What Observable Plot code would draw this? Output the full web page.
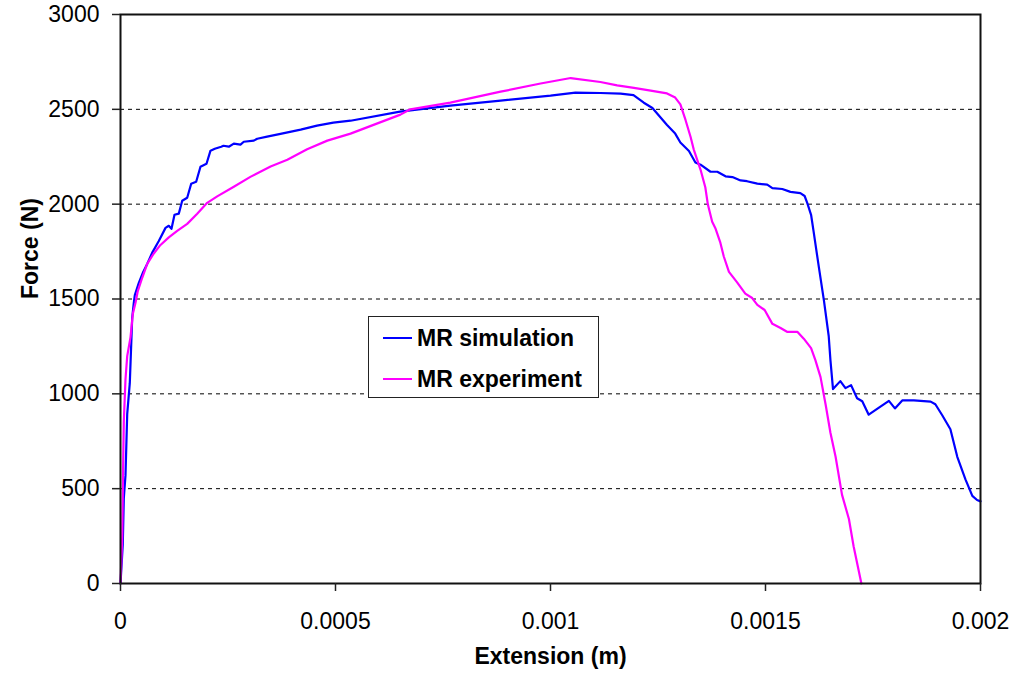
<!DOCTYPE html>
<html>
<head>
<meta charset="utf-8">
<script src="https://cdn.jsdelivr.net/npm/d3@7"></script>
<script src="https://cdn.jsdelivr.net/npm/@observablehq/plot@0.6"></script>
<style>
  html, body { margin: 0; padding: 0; background: #fff; }
  #chart { position: relative; width: 1016px; height: 679px; font-family: "Liberation Sans", Arial, sans-serif; }
  #legend {
    position: absolute; left: 368px; top: 316px; width: 229px; height: 80px;
    border: 1.5px solid #222; background: #fff; box-sizing: content-box;
  }
  #legend .item { position: absolute; left: 0; height: 30px; display: flex; align-items: center; }
  #legend .swatch { position: absolute; left: 14px; width: 29px; height: 2px; }
  #legend .label { position: absolute; left: 48px; white-space: nowrap; font-weight: bold; font-size: 23px; line-height: 30px; top: 0; }
</style>
</head>
<body>
<div id="chart"></div>
<script>
// Tensile test: force vs. extension, simulation against experiment
const simExtension = [0, 0.0000053, 0.0000077, 0.0000116, 0.0000156, 0.0000216, 0.0000272, 0.0000309, 0.0000333, 0.0000426,
  0.0000528, 0.0000621, 0.0000735, 0.0000891, 0.0001047, 0.0001123, 0.0001186, 0.0001256, 0.0001356, 0.0001435,
  0.0001551, 0.0001644, 0.000176, 0.000186, 0.0002, 0.0002093, 0.0002193, 0.0002342, 0.0002395, 0.0002519,
  0.0002635, 0.000279, 0.0002867, 0.00031, 0.000318, 0.000341, 0.000372, 0.000419, 0.000457, 0.000495,
  0.000535, 0.00065, 0.000767, 0.000884, 0.001, 0.001058, 0.001116, 0.001163, 0.001193, 0.001217,
  0.001237, 0.001271, 0.00129, 0.001302, 0.001322, 0.001337, 0.001349, 0.001372, 0.001388, 0.001407,
  0.001423, 0.001442, 0.001457, 0.001481, 0.001504, 0.001516, 0.001539, 0.001558, 0.001581, 0.001591,
  0.001597, 0.001606, 0.001612, 0.001624, 0.001636, 0.001647, 0.001651, 0.001657, 0.001674, 0.001686,
  0.001699, 0.001713, 0.001725, 0.00174, 0.001763, 0.001787, 0.001801, 0.001818, 0.001845, 0.001884,
  0.001895, 0.001911, 0.00193, 0.001946, 0.001965, 0.001981, 0.001992, 0.002];
const simForce = [0, 206, 449, 570, 893, 1056, 1400, 1479, 1521, 1585,
  1643, 1685, 1743, 1806, 1875, 1886, 1870, 1944, 1950, 2018,
  2034, 2108, 2118, 2197, 2213, 2282, 2292, 2303, 2308, 2303,
  2319, 2314, 2329, 2335, 2345, 2356, 2371, 2393, 2414, 2430,
  2440, 2488, 2520, 2546, 2572, 2588, 2586, 2583, 2575, 2535,
  2507, 2417, 2372, 2325, 2280, 2220, 2208, 2171, 2171, 2147,
  2143, 2125, 2121, 2108, 2103, 2085, 2080, 2065, 2058, 2043,
  2007, 1944, 1854, 1669, 1490, 1305, 1178, 1025, 1067, 1030,
  1046, 977, 961, 890, 926, 963, 923, 965, 965, 959,
  945, 887, 813, 668, 549, 462, 440, 433];

const expExtension = [0, 0.000004, 0.0000063, 0.0000077, 0.0000116, 0.0000156, 0.0000233, 0.0000286, 0.0000349, 0.0000402,
  0.0000505, 0.0000621, 0.0000774, 0.000093, 0.0001123, 0.0001319, 0.0001551, 0.0001784, 0.0002016, 0.0002249,
  0.0002635, 0.000302, 0.000349, 0.000388, 0.000434, 0.000481, 0.000535, 0.000651, 0.000674, 0.000767,
  0.000884, 0.000977, 0.001047, 0.001116, 0.001155, 0.001194, 0.001233, 0.001271, 0.00129, 0.001302,
  0.001314, 0.001326, 0.001333, 0.001349, 0.00136, 0.001366, 0.001376, 0.001384, 0.001395, 0.001403,
  0.001415, 0.001434, 0.001453, 0.001469, 0.001481, 0.001498, 0.001516, 0.001535, 0.00155, 0.001574,
  0.001589, 0.001606, 0.001616, 0.001628, 0.00164, 0.001651, 0.001663, 0.001678, 0.001694, 0.001705,
  0.001723];
const expForce = [0, 248, 650, 853, 1077, 1199, 1299, 1421, 1480, 1542,
  1612, 1685, 1740, 1785, 1825, 1859, 1896, 1950, 2007, 2041,
  2092, 2144, 2199, 2234, 2290, 2335, 2372, 2472, 2500, 2535,
  2593, 2636, 2665, 2644, 2626, 2613, 2599, 2584, 2562, 2526,
  2444, 2353, 2289, 2181, 2089, 1998, 1907, 1870, 1797, 1724,
  1643, 1588, 1528, 1505, 1469, 1442, 1369, 1347, 1327, 1327,
  1291, 1241, 1178, 1088, 941, 795, 668, 467, 340, 195,
  0];

const seriesNames = ["MR simulation", "MR experiment"];
const seriesColors = ["#0000ff", "#ff00ff"];
const xTicks = [0, 0.0005, 0.001, 0.0015, 0.002];
const yTicks = [0, 500, 1000, 1500, 2000, 2500, 3000];
const gridLines = [500, 1000, 1500, 2000, 2500];

const simulation = simExtension.map((x, i) => ({x, y: simForce[i]}));
const experiment = expExtension.map((x, i) => ({x, y: expForce[i]}));

const chart = Plot.plot({
  width: 1016,
  height: 679,
  marginLeft: 120,
  marginRight: 36,
  marginTop: 14,
  marginBottom: 96,
  style: {fontFamily: "'Liberation Sans', Arial, sans-serif", fontSize: "23px", color: "#000", background: "#fff"},
  x: {domain: [0, 0.002]},
  y: {domain: [0, 3000]},
  marks: [
    Plot.ruleY(gridLines, {stroke: "#000", strokeWidth: 1, strokeDasharray: "4,4"}),
    Plot.line(simulation, {x: "x", y: "y", stroke: seriesColors[0], strokeWidth: 2.2}),
    Plot.line(experiment, {x: "x", y: "y", stroke: seriesColors[1], strokeWidth: 2.2}),
    Plot.frame({stroke: "#111", strokeWidth: 2}),
    Plot.axisY({ticks: yTicks, tickSize: 8, tickPadding: 13, tickFormat: d => String(d), label: null, stroke: "#222", strokeWidth: 1.5}),
    Plot.axisX({ticks: xTicks, tickSize: 8, tickPadding: 21, tickFormat: d => String(d), label: null, stroke: "#222", strokeWidth: 1.5}),
    Plot.text(["Force (N)"], {frameAnchor: "left", rotate: -90, dx: -90, fontWeight: "bold", fontSize: 23}),
    Plot.text(["Extension (m)"], {frameAnchor: "bottom", dy: 80, fontWeight: "bold", fontSize: 23})
  ]
});

const root = document.getElementById("chart");
root.appendChild(chart);

// Legend box placed inside the plotting area
const legend = document.createElement("div");
legend.id = "legend";
seriesNames.forEach((name, i) => {
  const item = document.createElement("div");
  item.className = "item";
  item.style.top = (6 + i * 41) + "px";
  item.style.width = "100%";
  const sw = document.createElement("div");
  sw.className = "swatch";
  sw.style.background = seriesColors[i];
  sw.style.top = "14px";
  const lab = document.createElement("div");
  lab.className = "label";
  lab.textContent = name;
  item.appendChild(sw);
  item.appendChild(lab);
  legend.appendChild(item);
});
root.appendChild(legend);
</script>
</body>
</html>
